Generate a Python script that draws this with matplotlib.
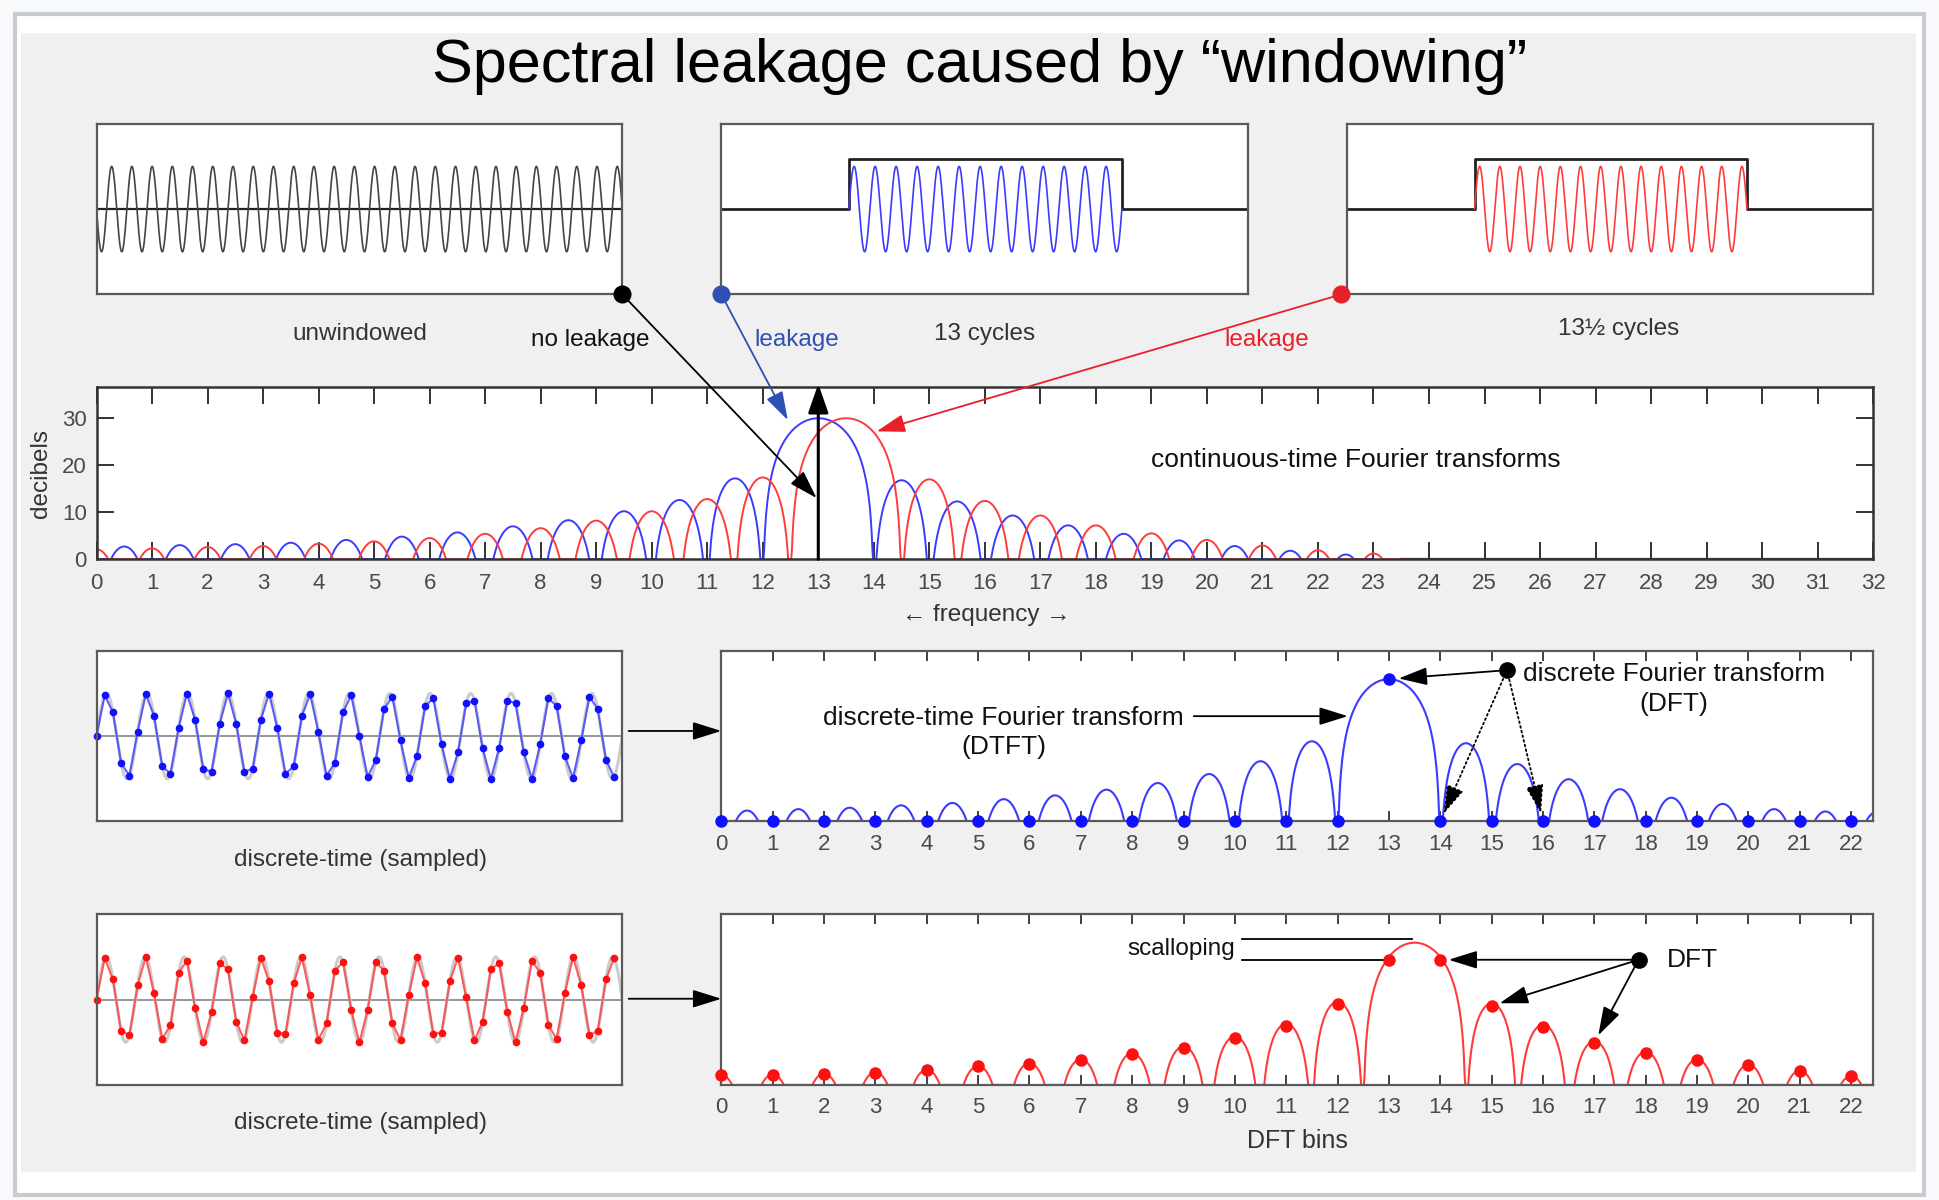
import numpy as np
import matplotlib.pyplot as plt
from matplotlib.patches import Rectangle, ConnectionPatch

plt.rcParams['font.family'] = ['Liberation Sans', 'DejaVu Sans']

# ---- values ----
freq_ticks = list(range(0, 33))
bin_ticks = list(range(0, 23))
db_ticks = [0, 10, 20, 30]

unwindowed_cycles = 26
blue_cycles = 13
red_cycles = 13.5
n_samples = 64
window_start, window_end = 0.242, 0.760
window_height = 1.18

# continuous-time transforms: zero crossings and lobe peaks (dB)
ct_blue_zeros = list(range(0, 13)) + list(range(14, 24))
ct_blue_peaks = [2.7, 3.0, 3.2, 3.5, 4.1, 4.8, 5.7, 7.0, 8.3, 10.2, 12.6, 17.2,
                 30.0,
                 16.8, 12.3, 9.3, 7.2, 5.4, 4.0, 2.8, 1.8, 1.0]
ct_red_zeros = [k - 0.5 for k in range(0, 14)] + [k + 0.5 for k in range(14, 24)]
ct_red_peaks = [2.1, 2.3, 2.6, 2.8, 3.3, 3.8, 4.5, 5.4, 6.6, 8.2, 10.2, 12.8, 17.4,
                30.0,
                17.0, 12.4, 9.3, 7.2, 5.5, 4.1, 2.9, 1.9, 1.2]
impulse_freq = 13
impulse_top = 37.3

# discrete-time transforms
dtft_blue_zeros = list(range(0, 13)) + list(range(14, 24))
dtft_blue_peaks = [2.3, 2.6, 2.9, 3.4, 3.9, 4.7, 5.5, 6.7, 8.1, 10.0, 12.7, 16.9,
                   30.0,
                   16.5, 12.1, 8.9, 6.8, 5.0, 3.7, 2.6, 2.1, 2.0]
dft_blue = [0, 0, 0, 0, 0, 0, 0, 0, 0, 0, 0, 0, 0, 30, 0, 0, 0, 0, 0, 0, 0, 0, 0]

dtft_red_zeros = [k - 0.5 for k in range(0, 14)] + [k + 0.5 for k in range(14, 23)]
dtft_red_peaks = [2.1, 2.2, 2.4, 2.7, 3.2, 4.0, 4.6, 5.4, 6.7, 8.1, 10.2, 12.9, 17.5,
                  30.0,
                  17.2, 12.7, 9.2, 7.0, 5.4, 4.3, 3.0, 1.9]
dft_red = [2.0, 2.1, 2.3, 2.6, 3.1, 3.9, 4.4, 5.2, 6.5, 7.8, 9.9, 12.5, 17.0,
           26.4, 26.4, 16.7, 12.3, 8.9, 6.8, 5.2, 4.2, 2.9, 1.8]

BLUE = '#3b3bff'
RED = '#ff3b3b'
BLUE_DOT = '#1010ff'
RED_DOT = '#ff1010'
BLUE_NOTE = '#2f4fb5'
RED_NOTE = '#e8202a'
TXT = '#333333'
TICK = '#4a4a4a'

W, H = 1568, 970


def place(x0, y0, x1, y1):
    return [x0 / W, 1 - y1 / H, (x1 - x0) / W, (y1 - y0) / H]


def lobe_curve(zeros, peaks, pts=160):
    xs, ys = [], []
    u = np.linspace(0, 1, pts)
    with np.errstate(divide='ignore'):
        shape = 20 * np.log10(np.sin(np.pi * u))
    for a, b, p in zip(zeros[:-1], zeros[1:], peaks):
        xs.extend(a + (b - a) * u)
        ys.extend(np.clip(p + shape, 0, None))
    return np.array(xs), np.array(ys)


def frame(ax, color='#5a5a5a', lw=1.6):
    for s in ax.spines.values():
        s.set_color(color)
        s.set_linewidth(lw)


fig = plt.figure(figsize=(19.4, 12), dpi=100)
fig.patch.set_facecolor('#f8f9fa')
fig.add_artist(Rectangle((12 / W, 1 - 966 / H), 1543 / W, 955 / H, transform=fig.transFigure,
                         facecolor='white', edgecolor='#c8ccd1', lw=3, zorder=-10))
fig.add_artist(Rectangle((17 / W, 1 - 947 / H), 1532 / W, 920 / H, transform=fig.transFigure,
                         facecolor='#f0f0f0', edgecolor='none', zorder=-9))

fig.text(0.505, 1 - 82 / 1200, 'Spectral leakage caused by \u201cwindowing\u201d',
         ha='center', va='baseline', fontsize=44, color='black')

# ---- top row: time signals ----
t = np.linspace(0, 1, 4000)
ax_a = fig.add_axes(place(78, 100, 503, 238))
ax_b = fig.add_axes(place(583, 100, 1009, 238))
ax_c = fig.add_axes(place(1089, 100, 1514, 238))
for ax in (ax_a, ax_b, ax_c):
    ax.set_xlim(0, 1)
    ax.set_ylim(-2, 2)
    ax.set_xticks([])
    ax.set_yticks([])
    frame(ax)

ax_a.axhline(0, color='#222222', lw=1.6)
ax_a.plot(t, -np.sin(2 * np.pi * unwindowed_cycles * t), color='#444444', lw=1.2)

for ax, cyc, col in ((ax_b, blue_cycles, BLUE), (ax_c, red_cycles, RED)):
    ax.plot([0, window_start, window_start, window_end, window_end, 1],
            [0, 0, window_height, window_height, 0, 0], color='#222222', lw=2)
    tw = t[(t >= window_start) & (t <= window_end)]
    ax.plot(tw, np.sin(2 * np.pi * cyc * (tw - window_start) / (window_end - window_start)),
            color=col, lw=1.2)

# ---- middle: continuous-time Fourier transforms ----
ax_ct = fig.add_axes(place(78, 313, 1514, 452))
ax_ct.set_xlim(0, 32)
ax_ct.set_ylim(0, 36.6)
xb, yb = lobe_curve(ct_blue_zeros, ct_blue_peaks)
xr, yr = lobe_curve(ct_red_zeros, ct_red_peaks)
ax_ct.plot(xb, yb, color=BLUE, lw=1.4)
ax_ct.plot(xr, yr, color=RED, lw=1.4)
ax_ct.plot([ct_red_zeros[-1], 32], [0, 0], color='#552255', lw=1.6)
ax_ct.annotate('', xy=(impulse_freq, impulse_top), xytext=(impulse_freq, 0),
               arrowprops=dict(arrowstyle='-|>,head_length=0.8,head_width=0.28',
                               mutation_scale=22, color='black', lw=2.2,
                               shrinkA=0, shrinkB=0),
               annotation_clip=False, zorder=15)
ax_ct.set_xticks(freq_ticks)
ax_ct.set_yticks(db_ticks)
ax_ct.tick_params(direction='in', top=True, right=True, length=12.5, width=1.4,
                  color='#333333', labelcolor=TICK, labelsize=16)
ax_ct.tick_params(axis='x', pad=10)
ax_ct.tick_params(axis='y', pad=7)
frame(ax_ct, '#333333', 1.8)

# ---- sampled signals ----
tn = np.arange(n_samples) / n_samples
ax_sb = fig.add_axes(place(78, 526, 503, 664))
ax_sr = fig.add_axes(place(78, 739, 503, 877))
for ax, cyc, col, dcol in ((ax_sb, blue_cycles, BLUE, BLUE_DOT), (ax_sr, red_cycles, RED, RED_DOT)):
    ax.set_xlim(0, 1)
    ax.set_ylim(-2, 2)
    ax.set_xticks([])
    ax.set_yticks([])
    frame(ax)
    ax.axhline(0, color='#999999', lw=1.5)
    ax.plot(t, np.sin(2 * np.pi * cyc * t), color='#cccccc', lw=2.2)
    xs = np.sin(2 * np.pi * cyc * tn)
    ax.plot(tn, xs, color=col, lw=1.5, alpha=0.8)
    ax.plot(tn, xs, 'o', color=dcol, ms=4.5, clip_on=False)

# ---- DTFT / DFT panels ----
ax_db = fig.add_axes(place(583, 526, 1514, 664))
ax_dr = fig.add_axes(place(583, 739, 1514, 877))
for ax, zeros, peaks, dft, col, dcol in ((ax_db, dtft_blue_zeros, dtft_blue_peaks, dft_blue, BLUE, BLUE_DOT),
                                         (ax_dr, dtft_red_zeros, dtft_red_peaks, dft_red, RED, RED_DOT)):
    ax.set_xlim(0, 22.43)
    ax.set_ylim(0, 36)
    x, y = lobe_curve(zeros, peaks)
    ax.plot(x, y, color=col, lw=1.5)
    ax.plot(bin_ticks, dft, 'o', color=dcol, ms=8, clip_on=False, zorder=5)
    ax.set_xticks(bin_ticks)
    ax.set_yticks([])
    ax.tick_params(axis='x', direction='in', top=True, length=7, width=1.3,
                   color='#333333', labelcolor=TICK, labelsize=16, pad=9)
    frame(ax)

# ---- annotations ----
head = '-|>,head_length=0.8,head_width=0.25'


def link(ax_from, xy_from, ax_to, xy_to, color):
    con = ConnectionPatch(xyA=xy_from, coordsA=ax_from.transAxes, xyB=xy_to, coordsB=ax_to.transData,
                          arrowstyle=head, mutation_scale=22, color=color, lw=1.3, zorder=20)
    fig.add_artist(con)
    ax_from.plot([xy_from[0]], [xy_from[1]], 'o', color=color, ms=12,
                 transform=ax_from.transAxes, clip_on=False, zorder=20)


link(ax_a, (1.0, 0.0), ax_ct, (12.97, 13.0), 'black')
link(ax_b, (0.0, 0.0), ax_ct, (12.45, 29.6), BLUE_NOTE)
link(ax_c, (-0.012, 0.0), ax_ct, (14.05, 27.2), RED_NOTE)

for src, dst, yf in ((ax_sb, ax_db, 0.53), (ax_sr, ax_dr, 0.505)):
    con = ConnectionPatch(xyA=(1.012, yf), coordsA=src.transAxes, xyB=(0, yf), coordsB=dst.transAxes,
                          arrowstyle=head, mutation_scale=22, color='black', lw=1.3, zorder=20)
    fig.add_artist(con)


def note_arrow(ax, xy, xytext, ls='-', shrink=0):
    ax.annotate('', xy=xy, xytext=xytext,
                arrowprops=dict(arrowstyle=head, mutation_scale=22, color='black', lw=1.3,
                                linestyle=ls, shrinkA=0, shrinkB=shrink),
                annotation_clip=False)


# DTFT panel
note_arrow(ax_db, (12.2, 22.2), (9.2, 22.2))
dot_b = (15.3, 31.9)
ax_db.plot(*dot_b, 'o', color='black', ms=11, clip_on=False, zorder=20)
note_arrow(ax_db, (13, dft_blue[13]), dot_b, shrink=7)
note_arrow(ax_db, (14, dft_blue[14]), dot_b, ls=':', shrink=6)
note_arrow(ax_db, (16, dft_blue[16]), dot_b, ls=':', shrink=6)

# DFT panel
dot_r = (17.86, dft_red[13])
ax_dr.plot(*dot_r, 'o', color='black', ms=11, clip_on=False, zorder=20)
note_arrow(ax_dr, (14, dft_red[14]), dot_r, shrink=6)
note_arrow(ax_dr, (15, dft_red[15]), dot_r, shrink=6)
note_arrow(ax_dr, (17, dft_red[17]), dot_r, shrink=6)
ax_dr.plot([10.14, 13.45], [30.7, 30.7], color='black', lw=1.3, clip_on=False)
ax_dr.plot([10.14, 13.0], [dft_red[13], dft_red[13]], color='black', lw=1.3, clip_on=False)

# ---- texts ----
labels = [
    ('unwindowed', 291, 270, TXT, 17.5),
    ('no leakage', 477, 275, '#111111', 17.5),
    ('leakage', 644, 275, BLUE_NOTE, 17.5),
    ('13 cycles', 796, 270, TXT, 17.5),
    ('leakage', 1024, 275, RED_NOTE, 17.5),
    ('13\u00bd cycles', 1308, 266, TXT, 17.5),
    ('continuous-time Fourier transforms', 1096, 372, '#111111', 19),
    ('\u2190 frequency \u2192', 797, 497, TXT, 17.5),
    ('discrete-time Fourier transform', 811, 580, '#111111', 19),
    ('(DTFT)', 811, 604, '#111111', 19),
    ('discrete Fourier transform', 1353, 545, '#111111', 19),
    ('(DFT)', 1353, 569, '#111111', 19),
    ('discrete-time (sampled)', 291, 695, TXT, 17.5),
    ('discrete-time (sampled)', 291, 908, TXT, 17.5),
    ('scalloping', 955, 767, '#111111', 17.5),
    ('DFT', 1368, 776, '#111111', 19),
    ('DFT bins', 1049, 922, TXT, 18),
]
for s, x, y, c, fs in labels:
    fig.text(x / W, 1 - y / H, s, ha='center', va='center', color=c, fontsize=fs)
fig.text(33 / W, 1 - 383 / H, 'decibels', ha='center', va='center', rotation=90,
         color=TXT, fontsize=17.5)

fig.savefig('out.png', dpi=100, facecolor=fig.get_facecolor())
